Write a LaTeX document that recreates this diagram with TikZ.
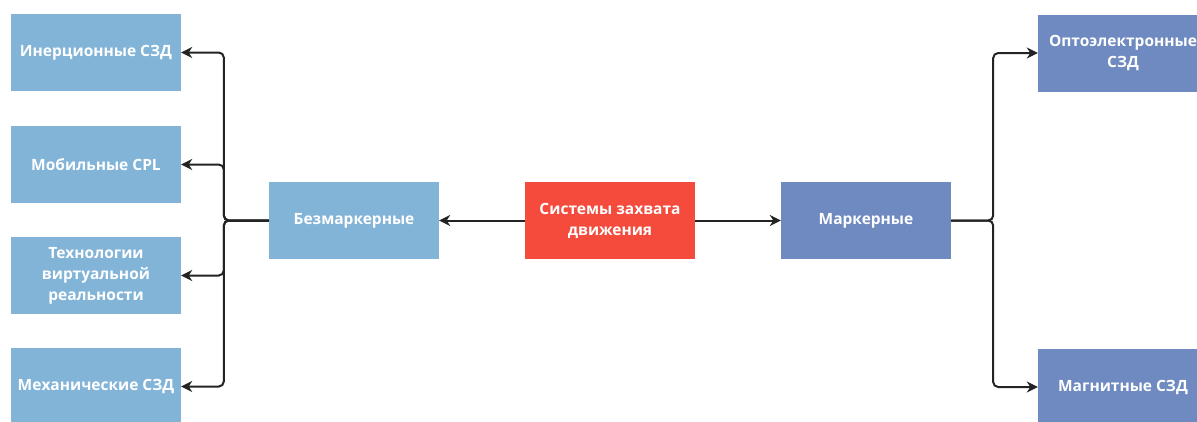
\documentclass[tikz,border=0pt]{standalone}
\usepackage{fontspec}
\setmainfont{Open Sans}
\usetikzlibrary{arrows.meta}
\definecolor{lightbox}{RGB}{130,180,216}
\definecolor{darkbox}{RGB}{110,138,192}
\definecolor{redbox}{RGB}{244,75,60}
\definecolor{linec}{RGB}{35,35,35}
\tikzset{
  box/.style={minimum width=170pt, minimum height=77pt, inner sep=2pt, text=white,
    font=\bfseries\fontsize{15.5}{21}\selectfont, align=center},
  lbox/.style={box, fill=lightbox},
  dbox/.style={box, fill=darkbox},
  rbox/.style={box, fill=redbox},
  arr/.style={draw=linec, line width=2pt, -{Stealth[length=11pt,width=11pt,inset=3.5pt]}},
  busline/.style={arr, rounded corners=5pt}
}
\begin{document}
\begin{tikzpicture}[x=1pt,y=-1pt]
\useasboundingbox (0,0) rectangle (1197,421);
\clip (0,0) rectangle (1197,421);
\node[lbox] (b1) at (96,52.5) {Инерционные СЗД};
\node[lbox] (b2) at (96,164.5) {Мобильные CPL};
\node[lbox] (b3) at (96,275.5) {Технологии\\виртуальной\\реальности};
\node[lbox] (b4) at (96,386.5) {Механические СЗД};
\node[lbox] (bez) at (354,220.5) {Безмаркерные};
\node[rbox] (sys) at (610,220.5) {Системы захвата\\движения};
\node[dbox] (mark) at (866,220.5) {Маркерные};
\node[dbox] (r1) at (1123,53) {Оптоэлектронные\\СЗД};
\node[dbox] (r2) at (1123,387) {Магнитные СЗД};
\draw[arr] (sys.west) -- (bez.east);
\draw[arr] (sys.east) -- (mark.west);
\foreach \t in {b1,b2,b3,b4}{
  \draw[busline] (bez.west) -- ++(-45,0) |- (\t.east);
}
\foreach \t in {r1,r2}{
  \draw[busline] (mark.east) -- ++(42,0) |- (\t.west);
}
\end{tikzpicture}
\end{document}
